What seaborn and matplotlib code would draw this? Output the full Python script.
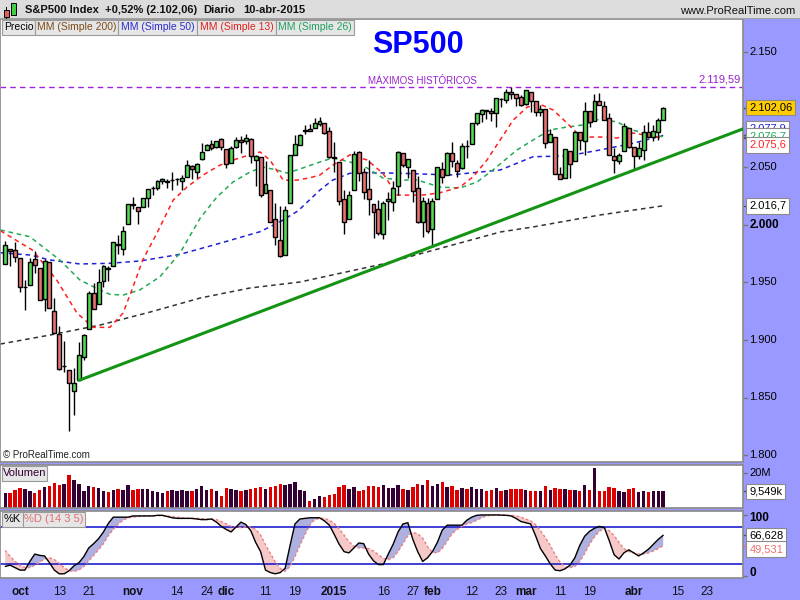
import numpy as np
import pandas as pd
import matplotlib
matplotlib.use("Agg")
import matplotlib.pyplot as plt
from matplotlib.patches import Rectangle
from matplotlib.transforms import blended_transform_factory as blend
import seaborn as sns

# ------------------------------------------------------------------
# Values (S&P500, daily, 26-sep-2014 .. 10-abr-2015)
# ------------------------------------------------------------------
first_session = "2014-09-26"
last_calendar_day = "2015-04-30"
market_holidays = ["2014-11-27", "2014-12-25", "2015-01-01",
                   "2015-01-19", "2015-02-16", "2015-04-03"]
prev_close = 1966.0  # close before the first visible bar (colours first volume bar)

opens = [1966.2, 1978.9, 1978.2, 1971.4, 1945.8, 1948.0, 1970.0, 1962.4, 1935.6, 1967.7,
         1925.6, 1905.6, 1877.1, 1874.2, 1855.9, 1864.9, 1885.6, 1909.4, 1941.3, 1931.0,
         1951.6, 1962.9, 1964.1, 1983.3, 1979.5, 2001.2, 2018.2, 2015.8, 2015.3, 2023.3,
         2032.4, 2032.0, 2038.2, 2037.8, 2039.2, 2039.7, 2038.3, 2041.5, 2051.2, 2045.9,
         2057.5, 2065.1, 2070.2, 2067.4, 2074.8, 2065.8, 2053.8, 2067.5, 2073.6, 2072.8,
         2074.8, 2056.6, 2058.9, 2027.9, 2030.4, 2005.0, 1986.7, 1973.8, 2018.9, 2061.0,
         2069.3, 2081.5, 2083.3, 2084.3, 2087.6, 2088.5, 2082.1, 2058.9, 2054.4, 2022.2,
         2005.6, 2030.6, 2063.5, 2046.1, 2031.6, 2018.4, 2013.8, 1992.3, 2020.8, 2020.2,
         2034.3, 2063.0, 2050.4, 2047.9, 2032.3, 2002.5, 2019.4, 1996.7, 2022.7, 2048.9,
         2043.5, 2062.3, 2053.5, 2049.4, 2068.6, 2070.0, 2088.8, 2096.5, 2099.2, 2099.3,
         2097.6, 2109.8, 2109.1, 2115.3, 2113.9, 2110.9, 2105.2, 2115.8, 2107.7, 2098.5,
         2100.9, 2072.3, 2076.1, 2044.7, 2041.1, 2064.6, 2055.4, 2080.6, 2072.8, 2098.7,
         2090.3, 2108.0, 2103.9, 2093.1, 2059.9, 2055.8, 2064.1, 2084.1, 2067.6, 2060.0,
         2064.9, 2080.8, 2076.9, 2081.3, 2091.5]
highs = [1986.4, 1978.9, 1985.2, 1971.4, 1952.3, 1971.2, 1977.4, 1962.4, 1970.4, 1967.7,
         1936.9, 1912.1, 1898.7, 1874.2, 1876.0, 1898.2, 1905.0, 1942.5, 1949.3, 1961.9,
         1965.3, 1964.6, 1985.1, 1991.4, 1999.4, 2018.2, 2024.5, 2015.8, 2023.8, 2031.6,
         2034.3, 2038.7, 2041.3, 2040.3, 2046.2, 2041.1, 2043.1, 2056.1, 2052.1, 2053.8,
         2071.5, 2070.2, 2074.2, 2073.3, 2075.8, 2065.8, 2068.8, 2076.3, 2077.3, 2079.5,
         2075.8, 2060.6, 2058.9, 2055.5, 2030.4, 2018.7, 2016.9, 2016.8, 2061.2, 2077.9,
         2078.8, 2086.7, 2087.6, 2092.7, 2093.6, 2088.5, 2085.6, 2072.4, 2054.4, 2030.3,
         2029.6, 2064.1, 2064.4, 2049.3, 2056.9, 2018.4, 2021.4, 2020.5, 2028.9, 2038.3,
         2064.6, 2063.0, 2057.6, 2047.9, 2042.5, 2024.6, 2023.3, 2023.9, 2050.3, 2054.7,
         2063.6, 2072.4, 2056.2, 2070.9, 2073.5, 2088.5, 2097.0, 2101.3, 2100.2, 2102.1,
         2110.6, 2110.1, 2117.9, 2119.6, 2113.9, 2112.7, 2117.5, 2115.8, 2107.7, 2104.3,
         2100.9, 2083.5, 2076.1, 2050.1, 2066.4, 2064.6, 2081.4, 2080.6, 2106.9, 2098.7,
         2113.9, 2114.9, 2107.6, 2097.4, 2067.2, 2062.8, 2089.0, 2084.1, 2067.6, 2072.2,
         2087.0, 2089.8, 2086.7, 2093.3, 2102.6]
lows = [1966.2, 1964.0, 1968.0, 1941.7, 1926.0, 1948.0, 1958.4, 1935.1, 1925.2, 1927.6,
        1906.0, 1874.1, 1871.8, 1820.7, 1835.0, 1864.9, 1883.0, 1909.4, 1927.1, 1931.0,
        1946.3, 1951.4, 1964.1, 1974.8, 1974.2, 2001.2, 2013.7, 2001.0, 2015.3, 2015.9,
        2025.8, 2030.2, 2035.3, 2031.9, 2030.4, 2035.2, 2030.2, 2041.5, 2040.4, 2040.5,
        2056.8, 2065.1, 2064.8, 2066.6, 2065.1, 2049.6, 2053.8, 2066.7, 2062.3, 2070.8,
        2054.3, 2034.2, 2024.3, 2027.9, 2002.3, 1982.3, 1972.6, 1973.8, 2018.9, 2061.0,
        2069.3, 2079.5, 2081.9, 2084.3, 2085.8, 2079.5, 2057.9, 2046.0, 2017.3, 1992.4,
        2005.6, 2030.6, 2038.3, 2022.6, 2008.3, 1988.4, 1991.5, 1988.1, 2004.5, 2012.0,
        2026.4, 2050.5, 2041.0, 2019.9, 2001.5, 1989.2, 1993.4, 1980.9, 2022.7, 2036.7,
        2043.5, 2050.0, 2041.9, 2048.6, 2058.0, 2070.0, 2086.7, 2089.8, 2092.2, 2090.8,
        2085.4, 2103.0, 2105.9, 2109.9, 2103.8, 2103.8, 2104.5, 2098.3, 2094.5, 2095.2,
        2067.3, 2072.2, 2044.2, 2039.7, 2041.1, 2041.2, 2055.4, 2065.1, 2061.2, 2085.6,
        2090.3, 2104.4, 2091.5, 2061.1, 2045.5, 2053.0, 2064.1, 2067.0, 2048.4, 2057.3,
        2056.5, 2076.1, 2073.3, 2074.3, 2091.5]
closes = [1982.9, 1977.8, 1972.3, 1946.2, 1946.2, 1967.9, 1964.8, 1935.1, 1968.9, 1928.2,
          1906.1, 1874.7, 1877.7, 1862.5, 1862.8, 1886.8, 1904.0, 1941.3, 1927.1, 1950.8,
          1964.6, 1961.6, 1985.1, 1982.3, 1994.7, 2018.1, 2017.8, 2012.1, 2023.6, 2031.2,
          2031.9, 2038.3, 2039.7, 2038.3, 2039.3, 2039.8, 2041.3, 2051.8, 2048.7, 2052.8,
          2063.5, 2069.4, 2067.0, 2072.8, 2067.6, 2053.4, 2066.6, 2074.3, 2071.9, 2075.4,
          2060.3, 2059.8, 2026.1, 2035.3, 2002.3, 1989.6, 1972.7, 2012.9, 2061.2, 2070.7,
          2078.5, 2082.2, 2081.9, 2088.8, 2090.6, 2080.4, 2058.9, 2058.2, 2020.6, 2002.6,
          2025.9, 2062.1, 2044.8, 2028.3, 2023.0, 2011.3, 1992.7, 2019.4, 2022.6, 2032.1,
          2063.2, 2051.8, 2057.1, 2029.6, 2002.2, 2021.3, 1995.0, 2020.9, 2050.0, 2041.5,
          2062.5, 2055.5, 2046.7, 2068.6, 2068.5, 2088.5, 2097.0, 2100.3, 2099.7, 2097.5,
          2110.3, 2109.7, 2115.5, 2113.9, 2110.7, 2104.5, 2117.4, 2107.8, 2098.5, 2101.0,
          2071.3, 2079.4, 2044.2, 2040.2, 2066.0, 2053.4, 2081.2, 2074.3, 2099.5, 2089.3,
          2108.1, 2104.4, 2091.5, 2061.1, 2056.2, 2061.0, 2086.2, 2067.9, 2059.7, 2067.0,
          2080.6, 2076.3, 2081.9, 2091.2, 2102.06]

# volume in millions
volume_m = [8.3, 8.5, 10.5, 11.5, 10.7, 9.6, 8.8, 10.1, 12.0, 12.5,
            14.2, 13.2, 13.7, 18.8, 15.9, 14.0, 9.5, 12.5, 12.0, 11.2,
            9.6, 9.0, 10.2, 10.6, 10.2, 13.0, 10.2, 11.0, 10.8, 10.8,
            9.6, 9.3, 8.7, 9.5, 10.2, 9.8, 10.2, 10.0, 9.7, 11.0,
            12.6, 10.3, 10.7, 9.8, 6.9, 11.6, 11.0, 10.1, 9.7, 10.1,
            11.0, 11.3, 11.9, 10.8, 11.9, 12.5, 13.6, 13.1, 13.6, 14.8,
            10.2, 9.6, 3.8, 5.0, 6.7, 6.1, 7.3, 7.9, 11.9, 13.1,
            10.8, 11.9, 9.6, 10.2, 12.5, 12.5, 11.9, 13.1, 11.3, 11.3,
            13.1, 10.8, 10.2, 11.9, 13.6, 13.1, 15.9, 12.5, 13.6, 14.8,
            11.9, 12.5, 10.2, 11.3, 10.8, 11.9, 10.8, 10.8, 9.6, 10.2,
            11.3, 9.6, 10.2, 10.8, 10.8, 10.8, 10.2, 9.6, 9.6, 9.6,
            12.5, 10.2, 11.3, 10.8, 10.8, 10.2, 10.2, 9.6, 13.1, 10.2,
            22.9, 9.6, 9.6, 11.9, 11.3, 9.6, 9.0, 10.8, 11.3, 9.0,
            9.6, 9.0, 9.6, 9.6, 9.549]

# Stochastic (14 3 5)
stoch_k = [16, 18, 14, 10, 10, 24, 36, 34, 33, 22,
           10, 4, 4, 9, 17, 22, 32, 46, 53, 61,
           72, 86, 96, 96, 96, 96, 98, 98, 98, 98,
           98, 99, 99, 97, 95, 94, 94, 94, 94, 93,
           92, 92, 93, 88, 81, 76, 72, 80, 88, 84,
           74, 55, 40, 10, 6, 4, 6, 13, 50, 85,
           93, 94, 95, 95, 95, 90, 83, 68, 52, 40,
           38, 46, 54, 53, 36, 25, 19, 19, 36, 52,
           72, 85, 87, 60, 40, 24, 30, 40, 55, 75,
           83, 83, 83, 83, 91, 96, 99, 99.6, 99.6, 99.6,
           99.6, 99.3, 99, 98, 94, 89, 87, 85, 66, 45,
           33, 20, 10, 9, 12, 18, 30, 50, 65, 73,
           78, 81, 79, 58, 35, 28, 38, 43, 38, 33,
           38, 44, 52, 60, 66.628]
stoch_d = [42, 32, 24, 18, 14, 14, 18, 23, 28, 30,
           27, 21, 14, 9, 8, 10, 16, 25, 34, 43,
           53, 66, 76, 85, 91, 95, 96, 97, 97.5, 98,
           98, 98.5, 98.5, 98, 97, 96, 95, 94.5, 94, 94,
           93.5, 93, 93, 92, 89, 85, 81, 80, 79, 80,
           80, 76, 67, 51, 37, 23, 13, 8, 16, 32,
           50, 67, 83, 92, 94, 94, 91, 86, 77, 67,
           56, 49, 46, 46, 45, 41, 35, 29, 27, 30,
           40, 53, 66, 71, 69, 62, 48, 39, 38, 45,
           57, 69, 76, 81, 85, 87, 91, 95, 98, 99,
           99.5, 99.5, 99.3, 99, 98, 96, 93, 90, 84, 74,
           63, 50, 35, 23, 15, 14, 16, 24, 37, 52,
           64, 73, 78, 74, 66, 55, 45, 40, 38, 36,
           36, 38, 41, 45, 49.531]

# moving averages, read at points (bar number counted from 1-oct-2014)
ma13_day = [-4, 2.6, 7.5, 11.6, 14.9, 18.3, 21, 23, 25, 27.9, 31.2, 34, 37.3, 40.7, 43.4,
            46.8, 48.9, 50.9, 53.6, 56.4, 59, 61.1, 63.7, 67.2, 70.7, 73.9, 76.8, 82, 85.5,
            89.6, 92.3, 95.1, 97.8, 100.4, 103.3, 105.9, 108.6, 111.4, 113.4, 116.1, 118.7,
            121.6, 124.8, 127.7, 131]
ma13 = [1995, 1978, 1952, 1923.5, 1911, 1911, 1923.5, 1946, 1969.6, 1993, 2021.7, 2033,
        2043.5, 2052, 2056.5, 2061, 2063.5, 2056.5, 2039, 2039, 2041, 2043.5, 2052, 2061,
        2056.5, 2045, 2026, 2026, 2028, 2033, 2042, 2056.5, 2074, 2091, 2102.6, 2105, 2100,
        2088.7, 2080, 2076.5, 2076.5, 2075.6, 2080, 2078, 2075.6]
ma26_day = [-4, 2, 8.1, 12.2, 16.3, 18.3, 21, 24.4, 28.5, 32.6, 36.7, 40.1, 43.4, 46.8,
            49.5, 52.3, 54.4, 57, 61.1, 63.7, 67.2, 70.7, 73.9, 77.4, 80.9, 85.5, 89.6, 93.1,
            96.3, 101.2, 104.5, 107.9, 111.4, 114.7, 118.1, 121.6, 124.8, 126.9, 131]
ma26 = [1995.7, 1989.8, 1969.6, 1952.2, 1943.5, 1939.7, 1939.1, 1943.5, 1955, 1975.7,
        2006, 2024.3, 2037.4, 2046, 2050.4, 2047.8, 2045.2, 2048.7, 2054.8, 2058.3, 2054.8,
        2049.6, 2040.9, 2039.1, 2039.1, 2033, 2032.2, 2037.4, 2047.8, 2065.2, 2073.9,
        2082.6, 2085.2, 2087, 2092.2, 2089.6, 2082.6, 2080, 2076.7]
ma50_day = [-4, 2, 6.1, 12.2, 18.3, 24.4, 32.6, 40.7, 48.9, 53, 56.6, 61.1, 63.7, 67.2,
            70.7, 77.4, 87.6, 97.8, 104.5, 111.4, 118.1, 124.8, 131]
ma50 = [1975.9, 1973.9, 1969.6, 1966.1, 1966.7, 1968.7, 1974.5, 1984.1, 1994.2, 2002.9,
        2012.2, 2030.4, 2039.1, 2045, 2045.5, 2045, 2043.5, 2047.8, 2059.4, 2060, 2065.2,
        2071, 2077.9]
ma200_day = [-4, 6.1, 16.3, 26.5, 36.7, 46.8, 57, 73.9, 97.8, 104.5, 118.1, 131]
ma200 = [1896.5, 1904.3, 1913, 1924.3, 1936.5, 1945.2, 1950.4, 1966.1, 1993.9, 1998.3,
         2008.7, 2016.7]

# support line and record high
trend_day = [12, 148]
trend_val = [1864.9, 2084.8]
record_high = 2119.59

tick_dates = ["2014-10-01", "2014-10-13", "2014-10-21", "2014-11-03", "2014-11-14",
              "2014-11-24", "2014-12-01", "2014-12-11", "2014-12-19", "2015-01-02",
              "2015-01-16", "2015-01-27", "2015-02-02", "2015-02-12", "2015-02-23",
              "2015-03-02", "2015-03-11", "2015-03-19", "2015-04-01", "2015-04-15",
              "2015-04-23"]
tick_labels = ["oct", "13", "21", "nov", "14", "24", "dic", "11", "19", "2015", "16", "27",
               "feb", "12", "23", "mar", "11", "19", "abr", "15", "23"]
month_labels = ["oct", "nov", "dic", "2015", "feb", "mar", "abr"]

# ------------------------------------------------------------------
# Style
# ------------------------------------------------------------------
sns.set_theme(style="white")
plt.rcParams["font.family"] = ["Liberation Sans", "DejaVu Sans"]

LAVENDER = "#9999ff"
FRAME = "#8c8c8c"
GREEN = "#55d955"
RED = "#ea7272"
VOL_UP = "#330033"
VOL_DN = "#dd0000"
W, H = 800, 600
PLOT_RIGHT = 743
OCT1_PX = 20.0
BAR_PX = 4.91


def es(v, dec):
    """Spanish number format: 2102.06 -> 2.102,06"""
    s = f"{v:,.{dec}f}"
    return s.replace(",", "#").replace(".", ",").replace("#", ".")


def panel(top, bottom):
    return [0, 1 - bottom / H, PLOT_RIGHT / W, (bottom - top) / H]


def fig_box(fig, x0, y0, x1, y1, text, color, face="#e6e6e6", size=7.5):
    fig.patches.append(Rectangle((x0 / W, 1 - y1 / H), (x1 - x0) / W, (y1 - y0) / H,
                                 transform=fig.transFigure, fc=face, ec="#9a9a9a",
                                 lw=0.8, zorder=5))
    fig.text((x0 + x1) / 2 / W, 1 - (y0 + y1) / 2 / H, text, color=color, fontsize=size,
             ha="center", va="center", zorder=6)


def right_label(ax, y, text, color="black", face=None, dy=0, weight="normal", size=8,
                tick="#555555"):
    tr = blend(ax.transAxes, ax.transData)
    kw = {}
    if face is not None:
        kw["bbox"] = dict(boxstyle="square,pad=0.25", fc=face, ec="#8a8a8a", lw=0.8)
    ax.annotate(text, xy=(1.0, y), xycoords=tr, xytext=(4.5, dy), textcoords="offset points",
                ha="left", va="center", color=color, fontsize=size, fontweight=weight,
                annotation_clip=False, **kw)
    ax.plot([1.0, 1.006], [y, y], transform=tr, color=tick, lw=1, clip_on=False)


# ------------------------------------------------------------------
# Bar positions from the trading calendar
# ------------------------------------------------------------------
days = pd.bdate_range(first_session, last_calendar_day)
days = days[~days.isin(pd.to_datetime(market_holidays))]
origin = days.get_loc(pd.Timestamp("2014-10-01"))
bar_x = np.arange(len(closes)) - origin
tick_x = [days.get_loc(pd.Timestamp(d)) - origin for d in tick_dates]

o = np.array(opens)
h = np.array(highs)
l = np.array(lows)
c = np.array(closes)
vol = np.array(volume_m) * 1e6
k = np.array(stoch_k)
d = np.array(stoch_d)

x_left = (0 - OCT1_PX) / BAR_PX
x_right = (PLOT_RIGHT - OCT1_PX) / BAR_PX

fig = plt.figure(figsize=(8, 6), dpi=100, facecolor=LAVENDER)

# header strip
fig.patches.append(Rectangle((0, 1 - 19 / H), 1, 19 / H, transform=fig.transFigure,
                             fc="#dcdcdc", ec="none", zorder=4))
fig.patches.append(Rectangle((0, 1 - 19 / H), 1, 1 / H, transform=fig.transFigure,
                             fc="#a0a0a0", ec="none", zorder=4))
# little candle icon
for (x0, y0, x1, y1, wy0, wy1, col, wx) in [(3.5, 10, 8.5, 17, 7, 19, "#e06060", 6),
                                             (11, 3, 16, 15, 1, 17, "#44cc44", 13.5)]:
    fig.patches.append(Rectangle((wx / W, 1 - wy1 / H), 0.8 / W, (wy1 - wy0) / H,
                                 transform=fig.transFigure, fc="black", ec="none", zorder=5))
    fig.patches.append(Rectangle((x0 / W, 1 - y1 / H), (x1 - x0) / W, (y1 - y0) / H,
                                 transform=fig.transFigure, fc=col, ec="black", lw=0.7,
                                 zorder=6))
change = (c[-1] / c[-2] - 1) * 100
for px, txt in [(25, "S&P500 Index"), (105, f"+{es(change, 2)}% ({es(c[-1], 2)})"),
                (203, "Diario"), (243, "10-abr-2015")]:
    fig.text(px / W, 1 - 10 / H, txt, fontsize=8, fontweight="bold", ha="left",
             va="center", color="#111111", zorder=6)
fig.text(795 / W, 1 - 11 / H, "www.ProRealTime.com", fontsize=8, ha="right", va="center",
         color="#111111", zorder=6)

# ------------------------------------------------------------------
# Price panel
# ------------------------------------------------------------------
ax = fig.add_axes(panel(19, 462))
ax.set_facecolor("white")
ax.set_xlim(x_left, x_right)
ax.set_ylim(2000 - (462 - 225) / 1.15, 2000 + (225 - 19) / 1.15)

dash = (0, (3, 2.5))
sns.lineplot(x=ma200_day, y=ma200, ax=ax, color="#333333", lw=1.1, linestyle=dash, zorder=1)
sns.lineplot(x=ma50_day, y=ma50, ax=ax, color="#2020d8", lw=1.1, linestyle=dash, zorder=1)
sns.lineplot(x=ma26_day, y=ma26, ax=ax, color="#22aa55", lw=1.1, linestyle=dash, zorder=1)
sns.lineplot(x=ma13_day, y=ma13, ax=ax, color="#ff2020", lw=1.1, linestyle=dash, zorder=1)
sns.lineplot(x=trend_day, y=trend_val, ax=ax, color="#149414", lw=2.2, zorder=4)

ax.axhline(record_high, color="#a020e0", lw=1, linestyle=(0, (4, 3)), zorder=1)
ax.annotate("MÁXIMOS HISTÓRICOS", xy=(422 / PLOT_RIGHT, record_high),
            xycoords=blend(ax.transAxes, ax.transData), xytext=(0, 5),
            textcoords="offset points", ha="center", va="center", fontsize=7,
            color="#9922cc")
ax.annotate(es(record_high, 2), xy=(741 / PLOT_RIGHT, record_high),
            xycoords=blend(ax.transAxes, ax.transData), xytext=(0, 5.5),
            textcoords="offset points", ha="right", va="center", fontsize=8,
            color="#9922cc")

up = c >= o
ax.vlines(bar_x, l, h, color="black", lw=1, zorder=2)
ax.bar(bar_x, c - o, bottom=o, width=0.8, color=np.where(up, GREEN, RED),
       edgecolor="black", linewidth=1.0, zorder=3)

ax.set_xticks([])
ax.set_yticks([])
for s in ax.spines.values():
    s.set_color(FRAME)

fig.text(418 / W, 1 - 45 / H, "SP500", fontsize=22, fontweight="bold", color="#0000ff",
         ha="center", va="center")
fig.text(3 / W, 1 - 455 / H, "© ProRealTime.com", fontsize=7, ha="left", va="center",
         color="#222222")

fig_box(fig, 2, 20, 35, 35, "Precio", "black")
fig_box(fig, 35, 20, 118, 35, "MM (Simple 200)", "#7a4a1a")
fig_box(fig, 118, 20, 197, 35, "MM (Simple 50)", "#2b2bd0")
fig_box(fig, 197, 20, 276, 35, "MM (Simple 13)", "#e02020")
fig_box(fig, 276, 20, 354, 35, "MM (Simple 26)", "#20a060")

for val in [2150, 2050, 1950, 1900, 1850, 1800]:
    right_label(ax, val, es(val, 0), tick="#777777")
right_label(ax, 2000, "2.000", weight="bold", size=8.5, tick="#777777")
right_label(ax, ma200[-1], es(ma200[-1], 1), face="white")
right_label(ax, ma50[-1], es(ma50[-1], 1), color="#2020d8", face="white", dy=5.0)
right_label(ax, ma26[-1], es(ma26[-1], 1), color="#22aa55", face="white", dy=0.5)
right_label(ax, ma13[-1], es(ma13[-1], 1), color="#ff2020", face="white", dy=-4.8)
right_label(ax, c[-1], es(c[-1], 2), face="#ffcc00")

# ------------------------------------------------------------------
# Volume panel
# ------------------------------------------------------------------
axv = fig.add_axes(panel(465, 508))
axv.set_facecolor("white")
axv.set_xlim(x_left, x_right)
axv.set_ylim(0, 20e6 * 43 / 35)
prev = np.concatenate([[prev_close], c[:-1]])
axv.bar(bar_x, vol, width=0.7, color=np.where(c >= prev, VOL_UP, VOL_DN), linewidth=0)
axv.set_xticks([])
axv.set_yticks([])
for s in axv.spines.values():
    s.set_color(FRAME)
fig_box(fig, 2, 466, 47, 481, "Volumen", "#330033", size=8)
right_label(axv, 20e6, "20M", tick="#777777")
right_label(axv, vol[-1], es(vol[-1] / 1e6, 3) + "k", face="white")

# ------------------------------------------------------------------
# Stochastic panel
# ------------------------------------------------------------------
axs = fig.add_axes(panel(511, 578))
axs.set_facecolor("white")
axs.set_xlim(x_left, x_right)
axs.set_ylim(-2.8, 106)
axs.fill_between(bar_x, k, d, where=k >= d, interpolate=True, color="#aeb0df", lw=0)
axs.fill_between(bar_x, k, d, where=k < d, interpolate=True, color="#f6c9c9", lw=0)
axs.axhline(80, color="#1f1fd0", lw=1.2)
axs.axhline(20, color="#1f1fd0", lw=1.2)
sns.lineplot(x=bar_x, y=d, ax=axs, color="#ee8080", lw=1, linestyle=(0, (2, 1.5)))
sns.lineplot(x=bar_x, y=k, ax=axs, color="black", lw=1)
axs.set_yticks([])
axs.set_xticks(tick_x, tick_labels)
axs.tick_params(axis="x", direction="out", length=3, width=1, color="#666666", pad=3,
                labelsize=8.5, labelcolor="#111111")
for lab in axs.get_xticklabels():
    if lab.get_text() in month_labels:
        lab.set_fontweight("bold")
for s in axs.spines.values():
    s.set_color(FRAME)
fig_box(fig, 2, 512, 23, 527, "%K", "black", size=8)
fig_box(fig, 23, 512, 85, 527, "%D (14 3 5)", "#e07070", size=8)
right_label(axs, 100, "100", weight="bold", size=8.5, tick="#777777", dy=-2.5)
right_label(axs, 0, "0", weight="bold", size=8.5, tick="#777777", dy=2.5)
right_label(axs, k[-1], es(k[-1], 3), face="white", dy=-0.5)
right_label(axs, d[-1], es(d[-1], 3), color="#ee7070", face="white", dy=-2.5,
            tick="#ee7070")

fig.savefig("out.png", dpi=100, facecolor=LAVENDER)
